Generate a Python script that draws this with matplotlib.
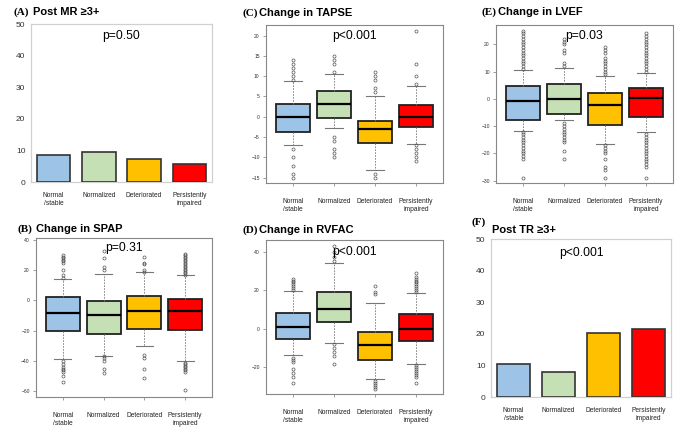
import matplotlib
matplotlib.use("Agg")
import matplotlib.pyplot as plt

# ---------------- data ----------------
categories = ["Normal\n/stable", "Normalized", "Deteriorated", "Persistently\nimpaired"]
colors = ["#9DC3E6", "#C5E0B4", "#FFC000", "#FF0000"]

post_mr = [8.6, 9.5, 7.4, 5.8]
post_tr = [10.4, 8.0, 20.1, 21.6]

# Change in SPAP
spap_med = [-8.2, -9.9, -6.8, -6.8]
spap_q1 = [-20.3, -22.0, -19.0, -19.4]
spap_q3 = [2.0, -0.2, 3.1, 0.7]
spap_lo = [-38.4, -36.6, -30.2, -40.0]
spap_hi = [14.1, 17.7, 18.5, 16.6]
spap_fliers = [
    [15, 17, 20, 25, 26, 27, 28, 29, 30, -40, -42, -44, -45, -46, -47, -50, -54],
    [20, 22, 28, 33, -37, -38, -40, -45, -48],
    [19, 20, 24, 25, 29, -36, -38, -45, -51],
    [17, 18, 19, 20, 21, 22, 23, 24, 25, 26, 27, 28, 29, 30, 31,
     -41, -42, -43, -44, -45, -46, -47, -59],
]

# Change in TAPSE
tapse_med = [0.0, 3.1, -2.9, 0.0]
tapse_q1 = [-3.7, -0.4, -6.4, -2.5]
tapse_q3 = [3.1, 6.3, -1.0, 3.0]
tapse_lo = [-6.9, -2.8, -13.0, -6.6]
tapse_hi = [8.8, 10.5, 5.0, 7.7]
tapse_fliers = [
    [9, 10, 11, 12, 13, 14, -8, -10, -12, -14, -15],
    [11, 13, 14, 15, -5, -6, -8, -9, -10],
    [6, 7, 9, 10, 11, -14, -15],
    [8, 10, 13, 21, -7, -8, -9, -10, -11],
]

# Change in RVFAC
rvfac_med = [0.7, 10.2, -8.6, -0.3]
rvfac_q1 = [-5.3, 3.4, -16.0, -6.2]
rvfac_q3 = [8.4, 18.8, -1.9, 7.8]
rvfac_lo = [-13.6, -7.4, -25.9, -18.3]
rvfac_hi = [19.5, 34.0, 13.4, 18.3]
rvfac_fliers = [
    [20, 21, 22, 23, 24, 25, 26, -15, -16, -17, -21, -23, -25, -28],
    [35, 37, 40, 43, -8, -10, -12, -14, -18],
    [18, 19, 22, -27, -28, -29, -30, -31],
    [19, 20, 21, 22, 23, 24, 25, 26, 27, 29, -19, -20, -21, -22, -23, -24, -25, -28],
]

# Change in LVEF
lvef_med = [-0.7, -0.2, -2.2, 0.2]
lvef_q1 = [-7.7, -5.4, -9.7, -6.8]
lvef_q3 = [4.6, 5.4, 2.3, 3.9]
lvef_lo = [-11.9, -7.9, -16.6, -12.3]
lvef_hi = [10.5, 11.2, 8.2, 9.4]
lvef_fliers = [
    [11, 12, 13, 14, 15, 16, 17, 18, 19, 20, 21, 22, 23, 24, 25,
     -12, -13, -14, -15, -16, -17, -18, -19, -20, -21, -22, -29],
    [12, 13, 17, 18, 20, 21, 22, -9, -10, -11, -12, -13, -14, -15, -16, -19, -22],
    [9, 10, 11, 12, 13, 14, 15, 17, 18, 19, -17, -18, -19, -20, -22, -25, -26, -29],
    [10, 11, 12, 13, 14, 15, 16, 17, 18, 19, 20, 21, 22, 23, 24,
     -13, -14, -15, -16, -17, -18, -19, -20, -21, -22, -23, -24, -25, -29],
]

# ---------------- figure ----------------
W, H = 685, 429
fig = plt.figure(figsize=(W / 100, H / 100), dpi=100)
SANS = "Liberation Sans"
SERIF = "Liberation Serif"


def add_ax(l, t, r, b):
    return fig.add_axes([l / W, 1 - b / H, (r - l) / W, (b - t) / H])


def title(xl, xt, y, letter, text, yl=None):
    if yl is None:
        yl = y
    fig.text(xl / W, 1 - yl / H, letter, family=SERIF, fontweight="bold",
             fontsize=8, va="center", ha="left")
    fig.text(xt / W, 1 - y / H, text, family=SANS, fontweight="bold",
             fontsize=8, va="center", ha="left")


def bar_panel(ax, values, ptxt, py):
    x = list(range(len(categories)))
    ax.bar(x, values, width=0.74, color=colors, edgecolor="#333333", linewidth=1.2, zorder=3)
    ax.set_xlim(-0.5, 3.5)
    ax.set_ylim(0, 50)
    ax.set_yticks([0, 10, 20, 30, 40, 50])
    ax.set_xticks(x)
    ax.set_xticklabels(categories, family=SANS, fontsize=4.8, color="#222222")
    for lab in ax.get_yticklabels():
        lab.set_family(SANS)
        lab.set_fontsize(6)
        lab.set_color("#333333")
    ax.tick_params(axis="y", length=0, pad=4)
    ax.tick_params(axis="x", length=0, pad=7)
    for s in ax.spines.values():
        s.set_color("#d0d0d0")
        s.set_linewidth(0.9)
    ax.text(0.5, 1 - py, ptxt, transform=ax.transAxes, ha="center", va="center",
            family=SANS, fontsize=8.7)


def box_panel(ax, med, q1, q3, lo, hi, fl, ylim, yticks, ptxt, py):
    stats = []
    for i in range(len(categories)):
        stats.append(dict(med=med[i], q1=q1[i], q3=q3[i], whislo=lo[i],
                          whishi=hi[i], fliers=fl[i]))
    bp = ax.bxp(stats, positions=[1, 2, 3, 4], widths=0.84, capwidths=0.42,
                patch_artist=True, showfliers=True,
                boxprops=dict(edgecolor="#222222", linewidth=1.3),
                medianprops=dict(color="black", linewidth=1.6),
                whiskerprops=dict(color="#777777", linewidth=0.6, linestyle=(0, (2, 1.5))),
                capprops=dict(color="#777777", linewidth=0.8),
                flierprops=dict(marker="o", markersize=2.2, markerfacecolor="none",
                                markeredgecolor="#555555", markeredgewidth=0.5))
    for patch, c in zip(bp["boxes"], colors):
        patch.set_facecolor(c)
    ax.set_xlim(0.34, 4.66)
    ax.set_ylim(*ylim)
    ax.set_yticks(yticks)
    ax.set_xticks([1, 2, 3, 4])
    ax.set_xticklabels(categories, family=SANS, fontsize=4.8, color="#222222")
    for lab in ax.get_yticklabels():
        lab.set_family(SANS)
        lab.set_fontsize(3.6)
        lab.set_color("#333333")
    ax.tick_params(axis="y", length=2.5, width=0.5, color="#777777", pad=2)
    ax.tick_params(axis="x", length=2.5, width=0.5, color="#777777", pad=8)
    for s in ax.spines.values():
        s.set_color("#888888")
        s.set_linewidth(0.8)
    ax.text(0.5, 1 - py, ptxt, transform=ax.transAxes, ha="center", va="center",
            family=SANS, fontsize=8.7)


# (A)
axA = add_ax(31, 24, 212, 182)
bar_panel(axA, post_mr, "p=0.50", 12 / 158)
title(13, 33, 12, "(A)", "Post MR \u22653+")

# (C)
axC = add_ax(266, 25, 443, 183)
box_panel(axC, tapse_med, tapse_q1, tapse_q3, tapse_lo, tapse_hi, tapse_fliers,
          (-16.3, 22.6), [-15, -10, -5, 0, 5, 10, 15, 20], "p<0.001", 11 / 158)
title(243, 259, 13, "(C)", "Change in TAPSE")

# (E)
axE = add_ax(496, 25, 673, 183)
box_panel(axE, lvef_med, lvef_q1, lvef_q3, lvef_lo, lvef_hi, lvef_fliers,
          (-30.9, 27.1), [-30, -20, -10, 0, 10, 20], "p=0.03", 11 / 158)
title(482, 498, 12, "(E)", "Change in LVEF")

# (B)
axB = add_ax(36, 238, 212, 397)
box_panel(axB, spap_med, spap_q1, spap_q3, spap_lo, spap_hi, spap_fliers,
          (-63.8, 41.3), [-60, -40, -20, 0, 20, 40], "p=0.31", 10 / 159)
title(17, 36, 229, "(B)", "Change in SPAP")

# (D)
axD = add_ax(266, 240, 443, 394)
box_panel(axD, rvfac_med, rvfac_q1, rvfac_q3, rvfac_lo, rvfac_hi, rvfac_fliers,
          (-33.8, 46.0), [-20, 0, 20, 40], "p<0.001", 12 / 154)
title(243, 259, 230, "(D)", "Change in RVFAC")

# (F)
axF = add_ax(491, 239, 671, 397)
bar_panel(axF, post_tr, "p<0.001", 14 / 158)
title(472, 492, 230, "(F)", "Post TR \u22653+", yl=222)

fig.savefig("out.png", dpi=100)
